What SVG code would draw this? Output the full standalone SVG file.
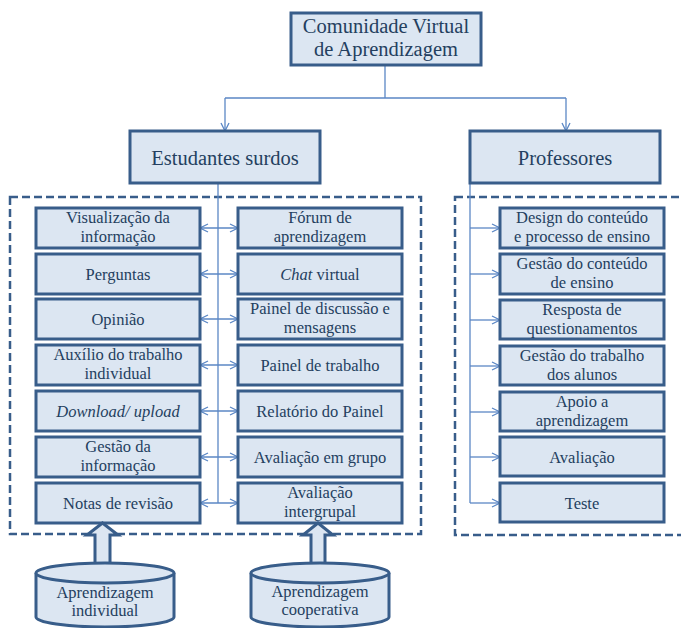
<svg xmlns="http://www.w3.org/2000/svg" width="681" height="628" viewBox="0 0 681 628">
  <style>
    .box { fill: #DCE6F2; stroke: #385D8A; stroke-width: 3; }
    .txt { font-size: 16.5px; fill: #243F60; text-anchor: middle; }
    .hdr { font-size: 20.5px; }
    .it { font-style: italic; }
    .con { fill: none; stroke: #5B87C5; stroke-width: 1.3; }
    .dash { fill: none; stroke: #385D8A; stroke-width: 2.5; stroke-dasharray: 8 4; }
  </style>
  <defs>
    <marker id="arr" viewBox="0 0 10 10" refX="9" refY="5" markerWidth="10" markerHeight="10" markerUnits="userSpaceOnUse" orient="auto-start-reverse">
      <path d="M1,1 L9,5 L1,9" fill="none" stroke="#5B87C5" stroke-width="1.3"/>
    </marker>
  </defs>

  <rect width="681" height="628" fill="#ffffff"/>

  <!-- dashed group frames -->
  <rect class="dash" x="10" y="197" width="411" height="337"/>
  <rect class="dash" x="455" y="197" width="240" height="338"/>

  <!-- connectors -->
  <g id="connectors">
    <path class="con" d="M385,66 V98 M225,98 H566"/>
    <path class="con" d="M225,98 V131" marker-end="url(#arr)"/>
    <path class="con" d="M566,98 V131" marker-end="url(#arr)"/>
    <!-- student trunk -->
    <path class="con" d="M218,183 V503"/>
    <path class="con" d="M200,228 H238" marker-start="url(#arr)" marker-end="url(#arr)"/>
    <path class="con" d="M200,274 H238" marker-start="url(#arr)" marker-end="url(#arr)"/>
    <path class="con" d="M200,319 H238" marker-start="url(#arr)" marker-end="url(#arr)"/>
    <path class="con" d="M200,365 H238" marker-start="url(#arr)" marker-end="url(#arr)"/>
    <path class="con" d="M200,411 H238" marker-start="url(#arr)" marker-end="url(#arr)"/>
    <path class="con" d="M200,457 H238" marker-start="url(#arr)" marker-end="url(#arr)"/>
    <path class="con" d="M200,503 H238" marker-start="url(#arr)" marker-end="url(#arr)"/>
    <!-- teacher trunk -->
    <path class="con" d="M470,183 V503"/>
    <path class="con" d="M470,228 H500" marker-end="url(#arr)"/>
    <path class="con" d="M470,274 H500" marker-end="url(#arr)"/>
    <path class="con" d="M470,320 H500" marker-end="url(#arr)"/>
    <path class="con" d="M470,366 H500" marker-end="url(#arr)"/>
    <path class="con" d="M470,412 H500" marker-end="url(#arr)"/>
    <path class="con" d="M470,457 H500" marker-end="url(#arr)"/>
    <path class="con" d="M470,503 H500" marker-end="url(#arr)"/>
  </g>

  <g font-family="Liberation Serif, Times New Roman, Tinos, DejaVu Serif, Noto Serif, serif">
  <!-- top level -->
  <g id="comunidade">
    <rect class="box" x="291" y="13" width="190" height="52"/>
    <text class="txt hdr" x="386" y="33">Comunidade Virtual</text>
    <text class="txt hdr" x="386" y="56">de Aprendizagem</text>
  </g>
  <g id="estudantes">
    <rect class="box" x="130" y="131" width="190" height="52"/>
    <text class="txt hdr" x="225" y="165">Estudantes surdos</text>
  </g>
  <g id="professores">
    <rect class="box" x="470" y="131" width="190" height="52"/>
    <text class="txt hdr" x="565" y="165">Professores</text>
  </g>

  <!-- student tools, left column -->
  <g id="visualizacao">
    <rect class="box" x="36" y="208" width="164" height="40"/>
    <text class="txt" x="118" y="223">Visualização da</text>
    <text class="txt" x="118" y="242">informação</text>
  </g>
  <g id="perguntas">
    <rect class="box" x="36" y="254" width="164" height="40"/>
    <text class="txt" x="118" y="280">Perguntas</text>
  </g>
  <g id="opiniao">
    <rect class="box" x="36" y="299" width="164" height="40"/>
    <text class="txt" x="118" y="325">Opinião</text>
  </g>
  <g id="auxilio">
    <rect class="box" x="36" y="345" width="164" height="40"/>
    <text class="txt" x="118" y="360">Auxílio do trabalho</text>
    <text class="txt" x="118" y="379">individual</text>
  </g>
  <g id="download">
    <rect class="box" x="36" y="391" width="164" height="40"/>
    <text class="txt it" x="118" y="417">Download/ upload</text>
  </g>
  <g id="gestao-info">
    <rect class="box" x="36" y="437" width="164" height="40"/>
    <text class="txt" x="118" y="452">Gestão da</text>
    <text class="txt" x="118" y="471">informação</text>
  </g>
  <g id="notas">
    <rect class="box" x="36" y="483" width="164" height="40"/>
    <text class="txt" x="118" y="509">Notas de revisão</text>
  </g>

  <!-- student tools, right column -->
  <g id="forum">
    <rect class="box" x="238" y="208" width="164" height="40"/>
    <text class="txt" x="320" y="223">Fórum de</text>
    <text class="txt" x="320" y="242">aprendizagem</text>
  </g>
  <g id="chat">
    <rect class="box" x="238" y="254" width="164" height="40"/>
    <text class="txt" x="320" y="280"><tspan class="it">Chat</tspan> virtual</text>
  </g>
  <g id="painel-discussao">
    <rect class="box" x="238" y="299" width="164" height="40"/>
    <text class="txt" x="320" y="314">Painel de discussão e</text>
    <text class="txt" x="320" y="333">mensagens</text>
  </g>
  <g id="painel-trabalho">
    <rect class="box" x="238" y="345" width="164" height="40"/>
    <text class="txt" x="320" y="371">Painel de trabalho</text>
  </g>
  <g id="relatorio">
    <rect class="box" x="238" y="391" width="164" height="40"/>
    <text class="txt" x="320" y="417">Relatório do Painel</text>
  </g>
  <g id="avaliacao-grupo">
    <rect class="box" x="238" y="437" width="164" height="40"/>
    <text class="txt" x="320" y="463">Avaliação em grupo</text>
  </g>
  <g id="avaliacao-intergrupal">
    <rect class="box" x="238" y="483" width="164" height="40"/>
    <text class="txt" x="320" y="498">Avaliação</text>
    <text class="txt" x="320" y="517">intergrupal</text>
  </g>

  <!-- teacher tools -->
  <g id="design">
    <rect class="box" x="500" y="208" width="164" height="40"/>
    <text class="txt" x="582" y="223">Design do conteúdo</text>
    <text class="txt" x="582" y="242">e processo de ensino</text>
  </g>
  <g id="gestao-conteudo">
    <rect class="box" x="500" y="254" width="164" height="40"/>
    <text class="txt" x="582" y="269">Gestão do conteúdo</text>
    <text class="txt" x="582" y="288">de ensino</text>
  </g>
  <g id="resposta">
    <rect class="box" x="500" y="300" width="164" height="39"/>
    <text class="txt" x="582" y="315">Resposta de</text>
    <text class="txt" x="582" y="334">questionamentos</text>
  </g>
  <g id="gestao-trabalho">
    <rect class="box" x="500" y="346" width="164" height="39"/>
    <text class="txt" x="582" y="361">Gestão do trabalho</text>
    <text class="txt" x="582" y="380">dos alunos</text>
  </g>
  <g id="apoio">
    <rect class="box" x="500" y="392" width="164" height="39"/>
    <text class="txt" x="582" y="407">Apoio a</text>
    <text class="txt" x="582" y="426">aprendizagem</text>
  </g>
  <g id="avaliacao">
    <rect class="box" x="500" y="437" width="164" height="39"/>
    <text class="txt" x="582" y="463">Avaliação</text>
  </g>
  <g id="teste">
    <rect class="box" x="500" y="483" width="164" height="39"/>
    <text class="txt" x="582" y="509">Teste</text>
  </g>

  <!-- learning sources with block arrows -->
  <g id="aprendizagem-individual">
    <polygon class="box" points="102.5,523 118,535 110,535 110,564 95,564 95,535 87,535"/>
    <path class="box" d="M36,573 V617 A69,10 0 0 0 174,617 V573"/>
    <ellipse class="box" cx="105" cy="573" rx="69" ry="10"/>
    <text class="txt" x="105" y="598">Aprendizagem</text>
    <text class="txt" x="105" y="616">individual</text>
  </g>
  <g id="aprendizagem-cooperativa">
    <polygon class="box" points="318,523 333,535 325,535 325,564 311,564 311,535 303,535"/>
    <path class="box" d="M251,573 V617 A69,10 0 0 0 389,617 V573"/>
    <ellipse class="box" cx="320" cy="573" rx="69" ry="10"/>
    <text class="txt" x="320" y="597">Aprendizagem</text>
    <text class="txt" x="320" y="615">cooperativa</text>
  </g>
  </g>
</svg>
